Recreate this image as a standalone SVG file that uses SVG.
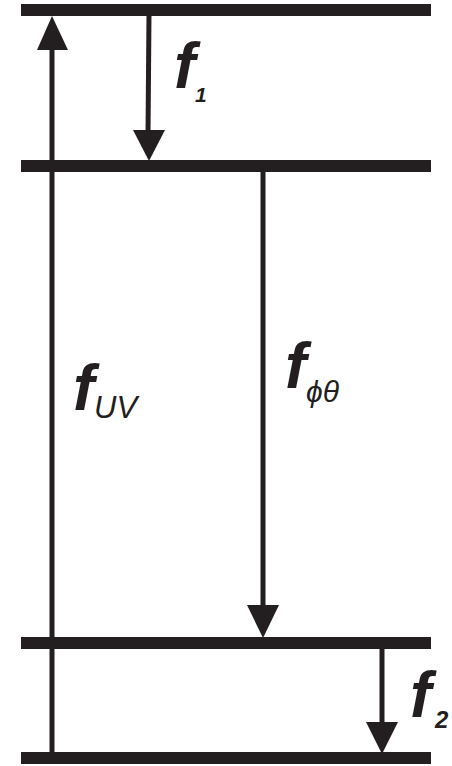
<svg xmlns="http://www.w3.org/2000/svg" width="452" height="766" viewBox="0 0 452 766">
<style>
.lvl{stroke:#231f20;stroke-width:12;}
.ar{stroke:#231f20;stroke-width:5;fill:none;}
.hd{fill:#231f20;}
.f{font-family:"Liberation Sans",Arial,sans-serif;font-weight:bold;font-style:italic;fill:#231f20;}
.s{font-family:"Liberation Sans",Arial,sans-serif;font-style:italic;fill:#231f20;}
</style>
<rect width="452" height="766" fill="#fff"/>
<g id="levels">
<line class="lvl" x1="21" y1="10" x2="431" y2="10"/>
<line class="lvl" x1="21" y1="166" x2="431" y2="166"/>
<line class="lvl" x1="21" y1="643" x2="431" y2="643"/>
<line class="lvl" x1="21" y1="758" x2="431" y2="758"/>
</g>
<g id="connectors">
<line class="ar" x1="52" y1="758" x2="52" y2="45"/>
<polygon class="hd" points="52,16 37,50 68,50"/>
<line class="ar" x1="149" y1="14" x2="148" y2="135"/>
<polygon class="hd" points="149,161 133,130 165,130"/>
<line class="ar" x1="263" y1="170" x2="263" y2="610"/>
<polygon class="hd" points="263,638 247,605 279,605"/>
<line class="ar" x1="382" y1="647" x2="382" y2="727"/>
<polygon class="hd" points="382,754 366,722 398,722"/>
</g>
<g id="label-f1"><text class="f" x="174" y="88" font-size="64">f</text><text class="f" x="195" y="102" font-size="21">1</text></g>
<g id="label-fUV"><text class="f" x="73" y="410" font-size="64">f</text><text class="s" x="94" y="418" font-size="31">UV</text></g>
<g id="label-fphitheta"><text class="f" x="285" y="388" font-size="64">f</text><text class="s" x="306" y="402" font-size="30">ϕθ</text></g>
<g id="label-f2"><text class="f" x="410" y="717" font-size="64">f</text><text class="f" x="435" y="728" font-size="24">2</text></g>
</svg>
